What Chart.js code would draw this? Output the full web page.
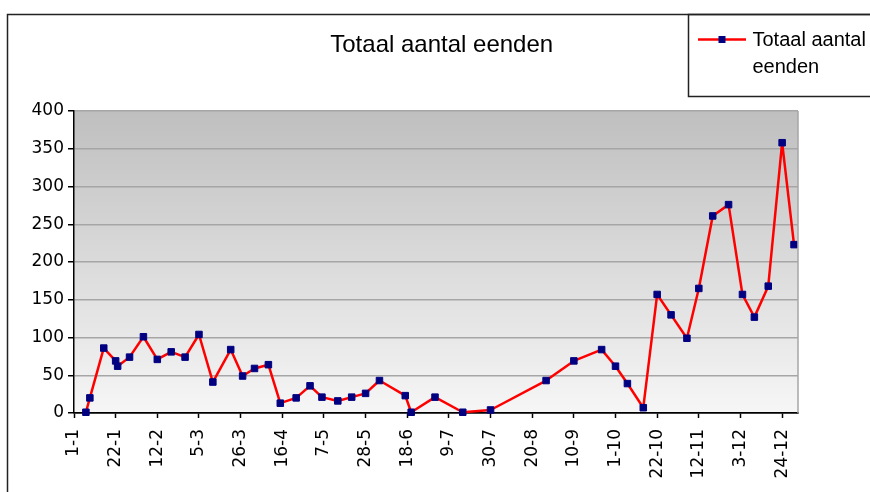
<!DOCTYPE html>
<html>
<head>
<meta charset="utf-8">
<title>Totaal aantal eenden</title>
<script src="https://cdn.jsdelivr.net/npm/chart.js@4.4.1/dist/chart.umd.min.js"></script>
<style>
  html, body { margin: 0; padding: 0; background: #fff; }
  #wrap { width: 870px; height: 492px; }
</style>
</head>
<body>
<div id="wrap"><canvas id="eenden" width="870" height="492"></canvas></div>
<script>
// counting dates (day-month) and number of ducks counted
const dates = [
  '7-1', '9-1', '16-1', '22-1', '23-1', '29-1', '5-2', '12-2', '19-2', '26-2',
  '5-3', '12-3', '21-3', '27-3', '2-4', '9-4', '15-4', '23-4', '30-4', '6-5',
  '14-5', '21-5', '28-5', '4-6', '17-6', '20-6', '2-7', '16-7', '30-7', '27-8',
  '10-9', '24-9', '1-10', '7-10', '15-10', '22-10', '29-10', '6-11', '12-11', '19-11',
  '27-11', '4-12', '10-12', '17-12', '24-12', '30-12'
];
const values = [
  1, 20, 86, 69, 62, 74, 101, 71, 81, 74,
  104, 41, 84, 49, 59, 64, 13, 20, 36, 21,
  16, 21, 26, 43, 23, 1, 21, 1, 4, 43,
  69, 84, 62, 39, 7, 157, 130, 99, 165, 261,
  276, 157, 127, 168, 358, 223
];
const tickLabels = [
  '1-1', '22-1', '12-2', '5-3', '26-3', '16-4', '7-5', '28-5', '18-6',
  '9-7', '30-7', '20-8', '10-9', '1-10', '22-10', '12-11', '3-12', '24-12'
];
const yTicks = [0, 50, 100, 150, 200, 250, 300, 350, 400];
const seriesName = 'Totaal aantal eenden';
const chartTitle = 'Totaal aantal eenden';

// 'd-m' -> day number in a (non-leap) year, 1-1 = 0
function dayOfYear(s) {
  const [d, m] = s.split('-').map(Number);
  return (Date.UTC(2001, m - 1, d) - Date.UTC(2001, 0, 1)) / 86400000;
}

const tickDays = tickLabels.map(dayOfYear);
const LINE = '#ff0000';
const MARK = '#000080';
const GRID = '#a6a6a6';
const tickFont = { family: "'DejaVu Sans', sans-serif", size: 17 };

const decor = {
  id: 'decor',
  beforeDraw(chart) {
    const { ctx, chartArea: a } = chart;
    const g = ctx.createLinearGradient(0, a.top, 0, a.bottom);
    g.addColorStop(0, '#bfbfbf');
    g.addColorStop(1, '#f6f6f6');
    ctx.save();
    ctx.fillStyle = g;
    ctx.fillRect(a.left, a.top, a.right - a.left, a.bottom - a.top);
    ctx.restore();
  },
  afterDraw(chart) {
    const { ctx, chartArea: a } = chart;
    ctx.save();
    // right edge of the plot
    ctx.strokeStyle = GRID;
    ctx.lineWidth = 1.5;
    ctx.beginPath();
    ctx.moveTo(a.right, a.top);
    ctx.lineTo(a.right, a.bottom);
    ctx.stroke();

    // outer frame
    ctx.strokeStyle = '#222';
    ctx.lineWidth = 1.5;
    ctx.beginPath();
    ctx.moveTo(7.5, 492);
    ctx.lineTo(7.5, 14.5);
    ctx.lineTo(870, 14.5);
    ctx.stroke();

    // title
    ctx.fillStyle = '#000';
    ctx.font = "24px 'Liberation Sans', Arial, sans-serif";
    ctx.textAlign = 'center';
    ctx.textBaseline = 'alphabetic';
    ctx.fillText(chartTitle, 441.7, 52.3);

    // legend box
    ctx.strokeStyle = '#222';
    ctx.lineWidth = 1.5;
    ctx.strokeRect(688.5, 14.5, 240, 82);
    ctx.strokeStyle = LINE;
    ctx.lineWidth = 2.5;
    ctx.beginPath();
    ctx.moveTo(698, 39.5);
    ctx.lineTo(746, 39.5);
    ctx.stroke();
    ctx.fillStyle = MARK;
    ctx.fillRect(718.5, 36, 7, 7);

    ctx.fillStyle = '#000';
    ctx.font = "20px 'Liberation Sans', Arial, sans-serif";
    ctx.textAlign = 'left';
    const maxW = 870 - 752.5;
    const lines = [];
    let cur = '';
    seriesName.split(' ').forEach(w => {
      const t = cur ? cur + ' ' + w : w;
      if (cur && ctx.measureText(t).width > maxW) { lines.push(cur); cur = w; }
      else cur = t;
    });
    lines.push(cur);
    lines.forEach((l, i) => ctx.fillText(l, 752.5, 45.7 + i * 27.6));
    ctx.restore();
  }
};

new Chart(document.getElementById('eenden'), {
  type: 'line',
  data: {
    datasets: [{
      label: seriesName,
      data: dates.map((d, i) => ({ x: dayOfYear(d), y: values[i] })),
      borderColor: LINE,
      borderWidth: 2.5,
      borderJoinStyle: 'round',
      tension: 0,
      pointStyle: 'rect',
      pointRadius: 4.6,
      pointBorderWidth: 1,
      pointBackgroundColor: MARK,
      pointBorderColor: MARK,
      clip: false
    }]
  },
  options: {
    responsive: false,
    animation: false,
    layout: { padding: { top: 111, right: 72, left: 0, bottom: 0 } },
    plugins: {
      legend: { display: false },
      title: { display: false },
      tooltip: { enabled: false }
    },
    scales: {
      x: {
        type: 'linear',
        min: 0,
        max: 365,
        afterFit(scale) { scale.height = 79; },
        afterBuildTicks(scale) { scale.ticks = tickDays.map(v => ({ value: v })); },
        ticks: {
          autoSkip: false,
          minRotation: 90,
          maxRotation: 90,
          padding: 11,
          color: '#000',
          font: tickFont,
          callback: (v, i) => tickLabels[i]
        },
        grid: { drawOnChartArea: false, drawTicks: true, tickLength: 5, tickColor: '#000', tickWidth: 1.5 },
        border: { color: '#000', width: 1.5 }
      },
      y: {
        min: 0,
        max: 400,
        afterFit(scale) { scale.width = 74; },
        afterBuildTicks(scale) { scale.ticks = yTicks.map(v => ({ value: v })); },
        ticks: { padding: 4, color: '#000', font: tickFont },
        grid: {
          color: c => (c.tick && c.tick.value === 0 ? '#000' : GRID),
          lineWidth: 1.5,
          tickLength: 6,
          tickColor: '#000',
          tickWidth: 1.5
        },
        border: { color: '#000', width: 1.5 }
      }
    }
  },
  plugins: [decor]
});
</script>
</body>
</html>
